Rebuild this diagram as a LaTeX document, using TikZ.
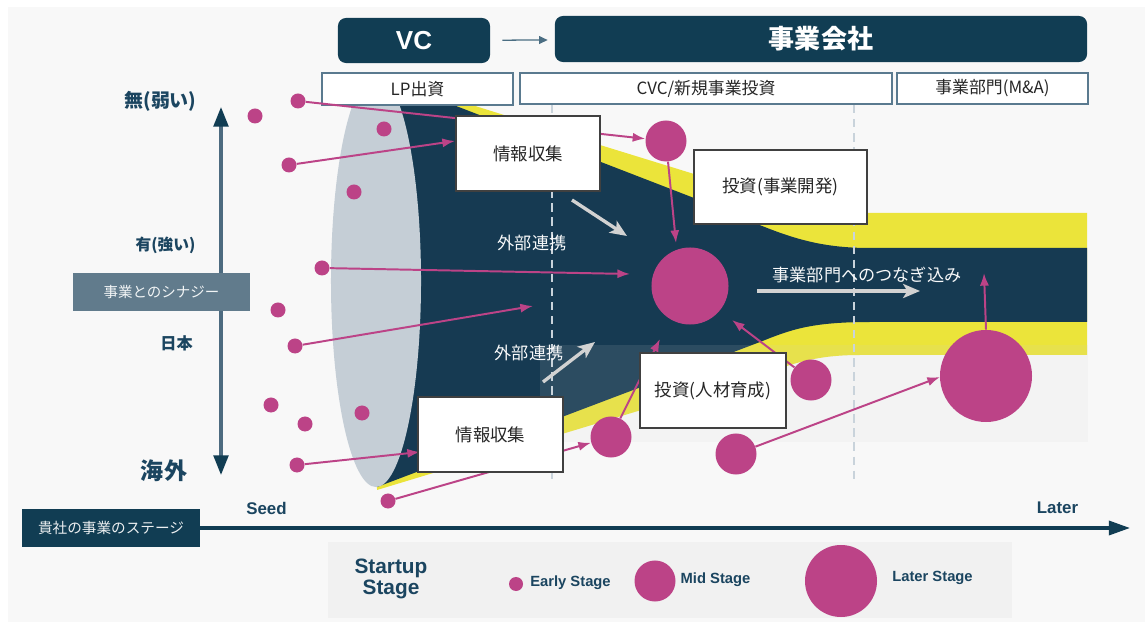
\documentclass[tikz,border=0pt]{standalone}
\usepackage{fontspec}
\usepackage{tikz}
\usetikzlibrary{arrows.meta}
\setmainfont{Liberation Sans}
\newfontfamily\jp{Noto Sans CJK JP}
\definecolor{navycolor}{HTML}{113D53}
\definecolor{bodycolor}{HTML}{163A52}
\definecolor{bandcolor}{HTML}{EBE43A}
\definecolor{lenscolor}{HTML}{C5CED6}
\definecolor{dotcolor}{HTML}{BC4387}
\definecolor{slatecolor}{HTML}{617B8C}
\definecolor{shaftcolor}{HTML}{4D6B80}
\definecolor{framecolor}{HTML}{5A7A8F}
\definecolor{flowcolor}{HTML}{D2D2D2}
\definecolor{dashcolor}{HTML}{C9D3DB}
\definecolor{bgcolor}{HTML}{F8F8F8}
\definecolor{legendcolor}{HTML}{F1F1F1}
\definecolor{labelcolor}{HTML}{1B4560}

\begin{document}
\begin{tikzpicture}[x=0.025cm, y=-0.025cm,
    header/.style={fill=navycolor, rounded corners=0.2cm, text=white, inner sep=0},
    tab/.style={draw=framecolor, line width=0.8pt, fill=white, inner sep=0, font=\jp\fontsize{12}{14}\selectfont, text=black!85},
    infobox/.style={draw=black!75, line width=0.9pt, fill=white, inner sep=0, minimum height=1.875cm, font=\jp\fontsize{12.4}{14}\selectfont, text=black!85},
    early/.style={circle, fill=dotcolor, inner sep=0, minimum size=0.375cm},
    mid/.style={circle, fill=dotcolor, inner sep=0, minimum size=1.025cm},
    link/.style={draw=dotcolor, line width=1.4pt, -{Latex[length=9pt, width=6.5pt]}},
    flow/.style={draw=flowcolor, line width=2.4pt, -{Stealth[length=12pt, width=10pt, inset=3pt]}},
    onbody/.style={text=white!88!lenscolor, font=\jp\fontsize{12.2}{14}\selectfont},
    keytext/.style={text=labelcolor, font=\bfseries\fontsize{10.5}{12}\selectfont}]

\fill[white] (0,0) rectangle (1145,622);
\fill[bgcolor] (8,7) rectangle (1145,622);
\useasboundingbox (0,0) rectangle (1145,622);
\fill[legendcolor] (328,542) rectangle (1012,618);

\fill[bandcolor] (376,75) -- (600,145) -- (694,174) .. controls (780,200) and (800,213) .. (866,213) -- (1087,213) -- (1087,355) -- (860,355) .. controls (820,355) and (800,362) .. (780,368) -- (377,490) -- cycle;
\fill[bodycolor] (376,75) -- (694,198) .. controls (770,228) and (800,248) .. (870,248) -- (1087,248) -- (1087,322) -- (870,322) .. controls (810,322) and (790,330) .. (760,342) -- (377,487) -- cycle;
\fill[lenscolor] (376,281) ellipse [x radius=1.125cm, y radius=5.15cm];
\fill[black!19, fill opacity=0.12] (540,345) rectangle (1088,442);
\draw[dashcolor, line width=1pt, dash pattern=on 6pt off 4pt] (552,105) -- (552,483);
\draw[dashcolor, line width=1pt, dash pattern=on 6pt off 4pt] (854,105) -- (854,483);

\node[header, minimum width=3.8cm, minimum height=1.125cm, font=\bfseries\fontsize{18.5}{20}\selectfont] (vc) at (414,40.5) {VC};
\node[header, minimum width=13.3cm, minimum height=1.15cm, font=\jp\bfseries\fontsize{18.5}{20}\selectfont] (corp) at (821,39) {事業会社};
\draw[framecolor!80!navycolor, line width=0.9pt, -{Triangle[length=6pt, width=5.5pt]}, shorten <=0.3cm, shorten >=0.175cm] (vc) -- (corp);

\node[tab, minimum width=4.775cm, minimum height=0.8cm] (lp) at (417.5,89) {LP出資};
\node[tab, minimum width=9.3cm, minimum height=0.775cm] (cvc) at (706,88.5) {CVC/新規事業投資};
\node[tab, minimum width=4.775cm, minimum height=0.775cm] (ma) at (992.5,88.5) {事業部門(M\&A)};

\coordinate (up) at (221,107);
\coordinate (down) at (221,475);
\draw[shaftcolor, line width=2.2pt, {Triangle[length=14pt, width=10.5pt, color=navycolor]}-{Triangle[length=14pt, width=10.5pt, color=navycolor]}] (down) -- (up);
\node[fill=slatecolor, text=white!92!slatecolor, minimum width=4.425cm, minimum height=0.95cm, inner sep=0, font=\jp\fontsize{10.3}{12}\selectfont] (synergy) at (161.5,292) {事業とのシナジー};
\node[text=labelcolor, font=\jp\bfseries\fontsize{13.5}{14}\selectfont] (weak) at (160.5,101) {無(弱い)};
\node[text=labelcolor, font=\jp\bfseries\fontsize{11.2}{12}\selectfont] (strong) at (165.5,245) {有(強い)};
\node[text=labelcolor, font=\jp\bfseries\fontsize{11.5}{12}\selectfont] (japan) at (176.5,343) {日本};
\node[text=labelcolor, font=\jp\bfseries\fontsize{16.4}{18}\selectfont] (abroad) at (164,471) {海外};

\node[fill=navycolor, text=white!92!navycolor, minimum width=4.45cm, minimum height=0.95cm, inner sep=0, font=\jp\fontsize{10.4}{12}\selectfont] (stage) at (111,528) {貴社の事業のステージ};
\coordinate (xend) at (1130,528);
\draw[navycolor, line width=2.3pt, -{Triangle[length=15pt, width=10pt]}] (stage.east) -- (xend);
\node[text=labelcolor, font=\bfseries\fontsize{12}{14}\selectfont] (seed) at (266.5,508) {Seed};
\node[text=labelcolor, font=\bfseries\fontsize{12}{14}\selectfont] (later) at (1057.5,508) {Later};

\node[early] (e1) at (298,101) {};
\node[early] (e2) at (255,116) {};
\node[early] (e3) at (384,129) {};
\node[early] (e4) at (289,165) {};
\node[early] (e5) at (354,192) {};
\node[early] (e6) at (322,268) {};
\node[early] (e7) at (278,310) {};
\node[early] (e8) at (295,346) {};
\node[early] (e9) at (271,405) {};
\node[early] (e10) at (305,424) {};
\node[early] (e11) at (362,413) {};
\node[early] (e12) at (297,465) {};
\node[early] (e13) at (388,501) {};
\node[mid] (m1) at (666,141) {};
\node[mid] (m2) at (611,437) {};
\node[mid] (m3) at (736,454) {};
\node[mid] (m4) at (811,380) {};
\node[circle, fill=dotcolor, inner sep=0, minimum size=1.925cm] (hub) at (690,286) {};
\node[circle, fill=dotcolor, inner sep=0, minimum size=2.3cm] (exit) at (986,376) {};

\coordinate (t4) at (455,141);
\coordinate (t6) at (630,274);
\coordinate (t8) at (533,306);
\coordinate (t12) at (420,452);
\coordinate (tm1) at (676,243);
\coordinate (tm2) at (660,339);
\coordinate (tm3) at (940,377);
\coordinate (tm4) at (732,320);
\coordinate (texit) at (984,273);
\draw[link] (e1) -- (m1);
\draw[link] (e4) -- (t4);
\draw[link] (e6) -- (t6);
\draw[link] (e8) -- (t8);
\draw[link] (e12) -- (t12);
\draw[link] (e13) -- (m2);
\draw[link] (m1) -- (tm1);
\draw[link] (m2) -- (tm2);
\draw[link] (m3) -- (tm3);
\draw[link] (m4) -- (tm4);
\draw[link] (exit.north) -- (texit);

\coordinate (g1) at (572,200);
\coordinate (g1e) at (627,236);
\coordinate (g2) at (543,382);
\coordinate (g2e) at (595,342);
\coordinate (g3) at (757,291);
\coordinate (g3e) at (920,291);
\draw[flow] (g1) -- (g1e);
\draw[flow] (g2) -- (g2e);
\draw[flow] (g3) -- (g3e);

\node[onbody] (ext1) at (532,243) {外部連携};
\node[onbody] (ext2) at (529,353) {外部連携};
\node[onbody] (merge) at (867,275) {事業部門へのつなぎ込み};

\node[infobox, minimum width=3.6cm] (info1) at (528,153.5) {情報収集};
\node[infobox, minimum width=4.325cm, minimum height=1.85cm] (dev) at (780.5,187) {投資(事業開発)};
\node[infobox, minimum width=3.625cm] (info2) at (490.5,434.5) {情報収集};
\node[infobox, minimum width=3.65cm] (talent) at (713,390.5) {投資(人材育成)};

\node[text=labelcolor, align=center, font=\bfseries\fontsize{14.8}{15.5}\selectfont] (startup) at (391,579) {Startup\\Stage};
\node[circle, fill=dotcolor, inner sep=0, minimum size=0.35cm] (k1) at (516,584) {};
\node[keytext] (k1t) at (570.5,583) {Early Stage};
\node[circle, fill=dotcolor, inner sep=0, minimum size=1.025cm] (k2) at (655,581) {};
\node[keytext] (k2t) at (715.5,580) {Mid Stage};
\node[circle, fill=dotcolor, inner sep=0, minimum size=1.8cm] (k3) at (841,581) {};
\node[keytext] (k3t) at (932.5,578) {Later Stage};
\end{tikzpicture}
\end{document}
